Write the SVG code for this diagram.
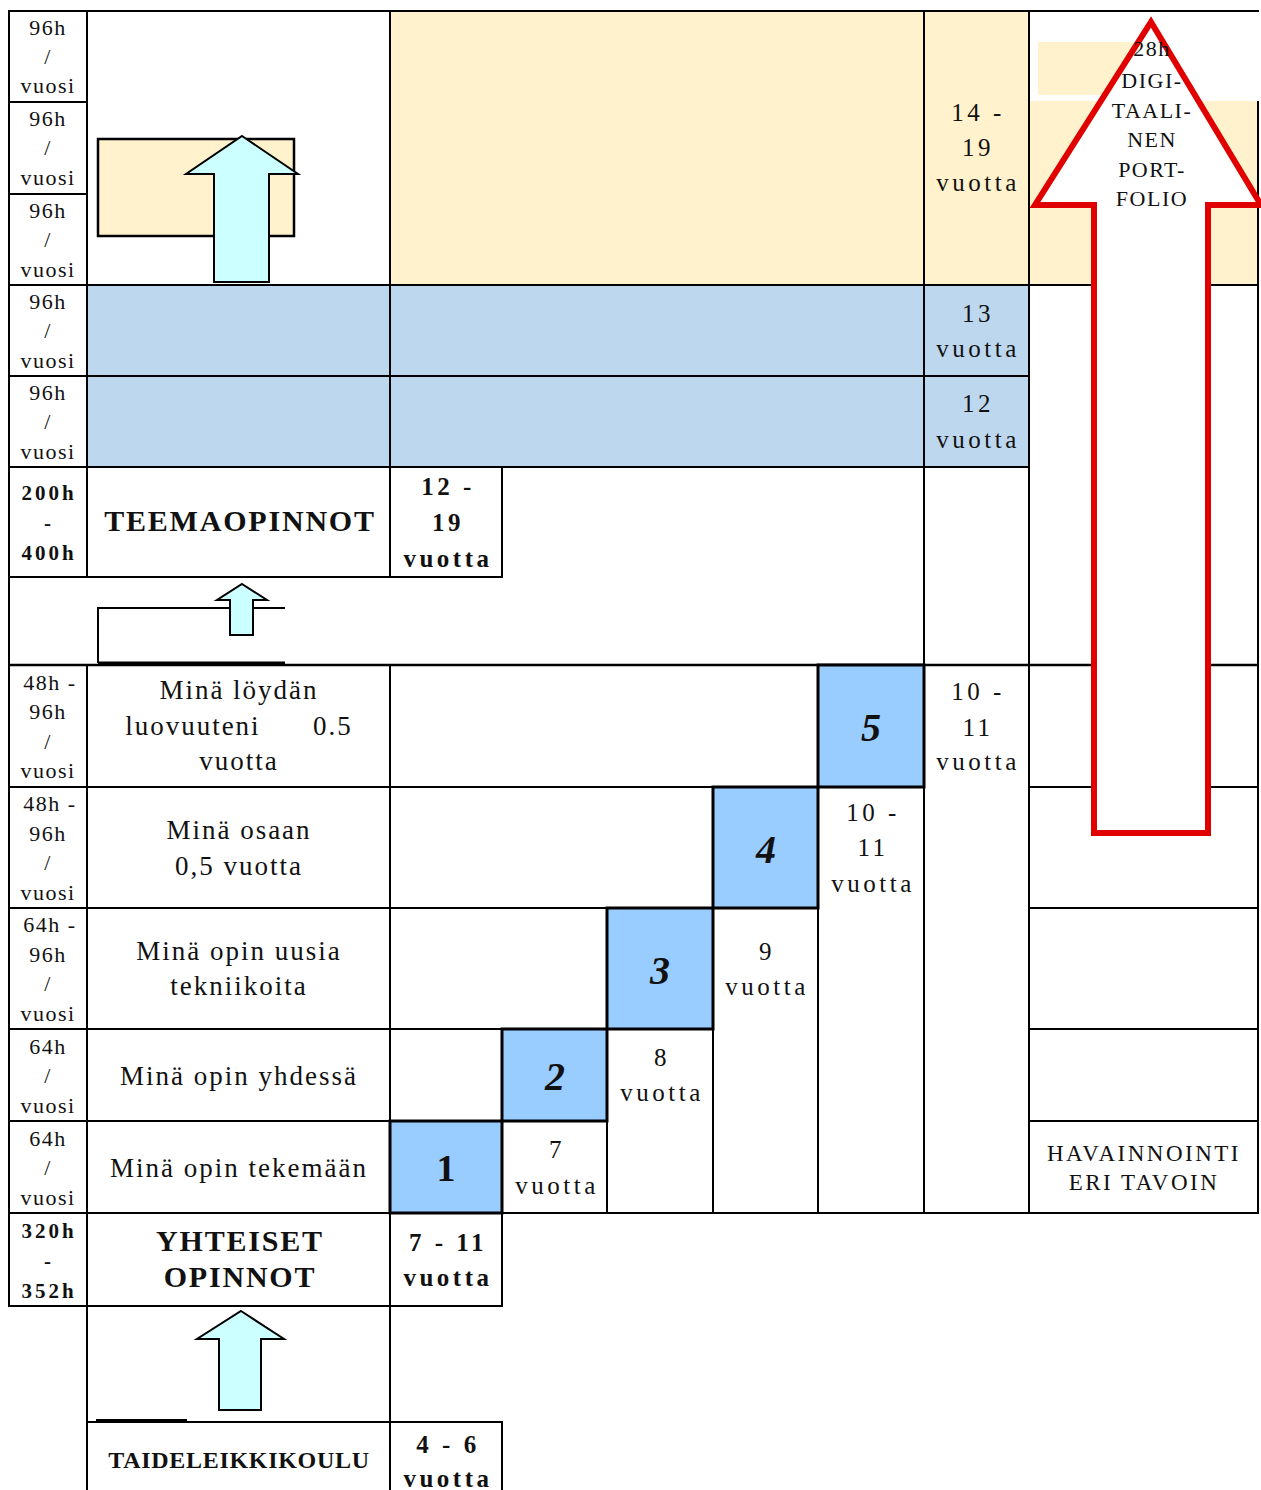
<svg xmlns="http://www.w3.org/2000/svg" width="1261" height="1490" viewBox="0 0 1261 1490">
<style>
text{font-family:"Liberation Serif","Times New Roman",serif;fill:#111;text-anchor:middle}
.t{font-size:22px;letter-spacing:1.5px}
.m{font-size:27px;letter-spacing:2px}
.v{font-size:25px;letter-spacing:3.5px}
.cap{font-size:23px;letter-spacing:2.5px}
.rt{font-size:22px;letter-spacing:1.5px}
.bt{font-weight:bold;font-size:30px;letter-spacing:1.8px}
.by{font-weight:bold;font-size:25px;letter-spacing:3.5px}
.bl{font-weight:bold;font-size:21px;letter-spacing:3px}
.bk{font-weight:bold;font-size:24px;letter-spacing:0.7px}
.num{font-weight:bold;font-style:italic;font-size:40px}
.ln line{stroke:#000;stroke-width:2}
.box{fill:#99CCFF;stroke:#000;stroke-width:3}
.cy{fill:#CCFFFF;stroke:#000;stroke-width:2;stroke-linejoin:miter}
</style>

<g id="fills">
<rect x="390" y="11" width="639" height="274" fill="#FFF2CC"/>
<rect x="1029" y="101" width="229" height="184" fill="#FFF2CC"/>
<rect x="1038" y="42" width="112" height="53" fill="#FFF2CC"/>
<rect x="87" y="285" width="942" height="182" fill="#BDD7EE"/>
</g>

<g id="grid" class="ln">
<line x1="8" y1="11" x2="1259" y2="11"/>
<line x1="9" y1="11" x2="9" y2="1307"/>
<line x1="87" y1="11" x2="87" y2="577"/>
<line x1="87" y1="665" x2="87" y2="1490"/>
<line x1="390" y1="11" x2="390" y2="577"/>
<line x1="390" y1="665" x2="390" y2="1490"/>
<line x1="502" y1="467" x2="502" y2="578"/>
<line x1="502" y1="1121" x2="502" y2="1307"/>
<line x1="502" y1="1422" x2="502" y2="1490"/>
<line x1="607" y1="1029" x2="607" y2="1213"/>
<line x1="713" y1="908" x2="713" y2="1213"/>
<line x1="818" y1="665" x2="818" y2="1213"/>
<line x1="924" y1="11" x2="924" y2="1213"/>
<line x1="1029" y1="11" x2="1029" y2="1213"/>
<line x1="1258" y1="101" x2="1258" y2="1214"/>
<line x1="9" y1="102" x2="87" y2="102"/>
<line x1="9" y1="194" x2="87" y2="194"/>
<line x1="9" y1="285" x2="1258" y2="285"/>
<line x1="9" y1="376" x2="1029" y2="376"/>
<line x1="9" y1="467" x2="1029" y2="467"/>
<line x1="9" y1="577" x2="503" y2="577"/>
<line x1="9" y1="665" x2="1258" y2="665" style="stroke-width:2.5"/>
<line x1="9" y1="787" x2="924" y2="787"/>
<line x1="1029" y1="787" x2="1258" y2="787"/>
<line x1="9" y1="908" x2="818" y2="908"/>
<line x1="1029" y1="908" x2="1258" y2="908"/>
<line x1="9" y1="1029" x2="713" y2="1029"/>
<line x1="1029" y1="1029" x2="1258" y2="1029"/>
<line x1="9" y1="1121" x2="607" y2="1121"/>
<line x1="1029" y1="1121" x2="1258" y2="1121"/>
<line x1="9" y1="1213" x2="1259" y2="1213"/>
<line x1="8" y1="1306" x2="503" y2="1306"/>
<line x1="87" y1="1422" x2="503" y2="1422"/>
<line x1="96" y1="1420" x2="187" y2="1420"/>
</g>

<g id="inset-boxes">
<rect x="98" y="139" width="196" height="97" fill="#FFF2CC" stroke="#000" stroke-width="2.5"/>
<path d="M98,663 V608 H285" fill="none" stroke="#000" stroke-width="2"/>
<line x1="98" y1="663" x2="285" y2="663" stroke="#000" stroke-width="3"/>
</g>

<g id="connectors">
<polygon class="cy" points="242,136 298,174 269,174 269,282 214,282 214,174 186,174"/>
<polygon class="cy" points="242,584 267,600 253,600 253,635 230,635 230,600 217,600"/>
<polygon class="cy" points="241,1311 284,1339 261,1339 261,1410 219,1410 219,1339 197,1339"/>
</g>

<g id="step-boxes">
<g id="step1"><rect class="box" x="390" y="1121" width="112" height="92"/><text x="446" y="1181" style="font-weight:bold;font-size:38px">1</text></g>
<g id="step2"><rect class="box" x="502" y="1029" width="105" height="92"/><text class="num" x="555" y="1090">2</text></g>
<g id="step3"><rect class="box" x="607" y="908" width="106" height="121"/><text class="num" x="660" y="984">3</text></g>
<g id="step4"><rect class="box" x="713" y="787" width="105" height="121"/><text class="num" x="766" y="863">4</text></g>
<g id="step5"><rect class="box" x="818" y="665" width="106" height="122"/><text class="num" x="871" y="741">5</text></g>
</g>

<g id="hours">
<text class="t" x="48" y="35">96h</text><text class="t" x="48" y="64">/</text><text class="t" x="48" y="93">vuosi</text>
<text class="t" x="48" y="126">96h</text><text class="t" x="48" y="155">/</text><text class="t" x="48" y="185">vuosi</text>
<text class="t" x="48" y="218">96h</text><text class="t" x="48" y="247">/</text><text class="t" x="48" y="277">vuosi</text>
<text class="t" x="48" y="309">96h</text><text class="t" x="48" y="338">/</text><text class="t" x="48" y="368">vuosi</text>
<text class="t" x="48" y="400">96h</text><text class="t" x="48" y="429">/</text><text class="t" x="48" y="459">vuosi</text>
<text class="bl" x="49" y="500">200h</text><text class="bl" x="49" y="530">-</text><text class="bl" x="49" y="560">400h</text>
<text class="t" x="50" y="690">48h -</text><text class="t" x="48" y="719">96h</text><text class="t" x="48" y="749">/</text><text class="t" x="48" y="778">vuosi</text>
<text class="t" x="50" y="811">48h -</text><text class="t" x="48" y="841">96h</text><text class="t" x="48" y="870">/</text><text class="t" x="48" y="900">vuosi</text>
<text class="t" x="50" y="932">64h -</text><text class="t" x="48" y="962">96h</text><text class="t" x="48" y="991">/</text><text class="t" x="48" y="1021">vuosi</text>
<text class="t" x="48" y="1054">64h</text><text class="t" x="48" y="1083">/</text><text class="t" x="48" y="1113">vuosi</text>
<text class="t" x="48" y="1146">64h</text><text class="t" x="48" y="1175">/</text><text class="t" x="48" y="1205">vuosi</text>
<text class="bl" x="49" y="1238">320h</text><text class="bl" x="49" y="1268">-</text><text class="bl" x="49" y="1298">352h</text>
</g>

<g id="labels">
<text class="bt" x="240" y="531">TEEMAOPINNOT</text>
<text class="m" x="239" y="699">Minä löydän</text>
<text class="m" x="239" y="735" xml:space="preserve">luovuuteni      0.5</text>
<text class="m" x="239" y="770">vuotta</text>
<text class="m" x="239" y="839">Minä osaan</text>
<text class="m" x="239" y="875">0,5 vuotta</text>
<text class="m" x="239" y="960">Minä opin uusia</text>
<text class="m" x="239" y="995">tekniikoita</text>
<text class="m" x="239" y="1085">Minä opin yhdessä</text>
<text class="m" x="239" y="1177">Minä opin tekemään</text>
<text class="bt" x="240" y="1251">YHTEISET</text>
<text class="bt" x="240" y="1287">OPINNOT</text>
<text class="bk" x="239" y="1468">TAIDELEIKKIKOULU</text>
<text class="cap" x="1144" y="1161">HAVAINNOINTI</text>
<text class="cap" x="1144" y="1190">ERI TAVOIN</text>
</g>

<g id="ages">
<text class="v" x="978" y="121">14 -</text><text class="v" x="978" y="156">19</text><text class="v" x="978" y="191">vuotta</text>
<text class="v" x="978" y="322">13</text><text class="v" x="978" y="357">vuotta</text>
<text class="v" x="978" y="412">12</text><text class="v" x="978" y="448">vuotta</text>
<text class="by" x="448" y="495">12 -</text><text class="by" x="448" y="531">19</text><text class="by" x="448" y="567">vuotta</text>
<text class="v" x="978" y="700">10 -</text><text class="v" x="978" y="736">11</text><text class="v" x="978" y="770">vuotta</text>
<text class="v" x="873" y="821">10 -</text><text class="v" x="873" y="856">11</text><text class="v" x="873" y="892">vuotta</text>
<text class="v" x="767" y="960">9</text><text class="v" x="767" y="995">vuotta</text>
<text class="v" x="662" y="1066">8</text><text class="v" x="662" y="1101">vuotta</text>
<text class="v" x="557" y="1158">7</text><text class="v" x="557" y="1194">vuotta</text>
<text class="by" x="448" y="1251">7 - 11</text><text class="by" x="448" y="1286">vuotta</text>
<text class="by" x="448" y="1453">4 - 6</text><text class="by" x="448" y="1487">vuotta</text>
</g>

<g id="portfolio-arrow">
<polygon points="1151,22 1261,205 1208,205 1208,833 1094,833 1094,205 1035,205" fill="#fff" stroke="#E00000" stroke-width="6" stroke-linejoin="miter"/>
<text class="rt" x="1152" y="56">28h</text>
<text class="rt" x="1152" y="88">DIGI-</text>
<text class="rt" x="1152" y="118">TAALI-</text>
<text class="rt" x="1152" y="147">NEN</text>
<text class="rt" x="1152" y="177">PORT-</text>
<text class="rt" x="1152" y="206">FOLIO</text>
</g>
</svg>
